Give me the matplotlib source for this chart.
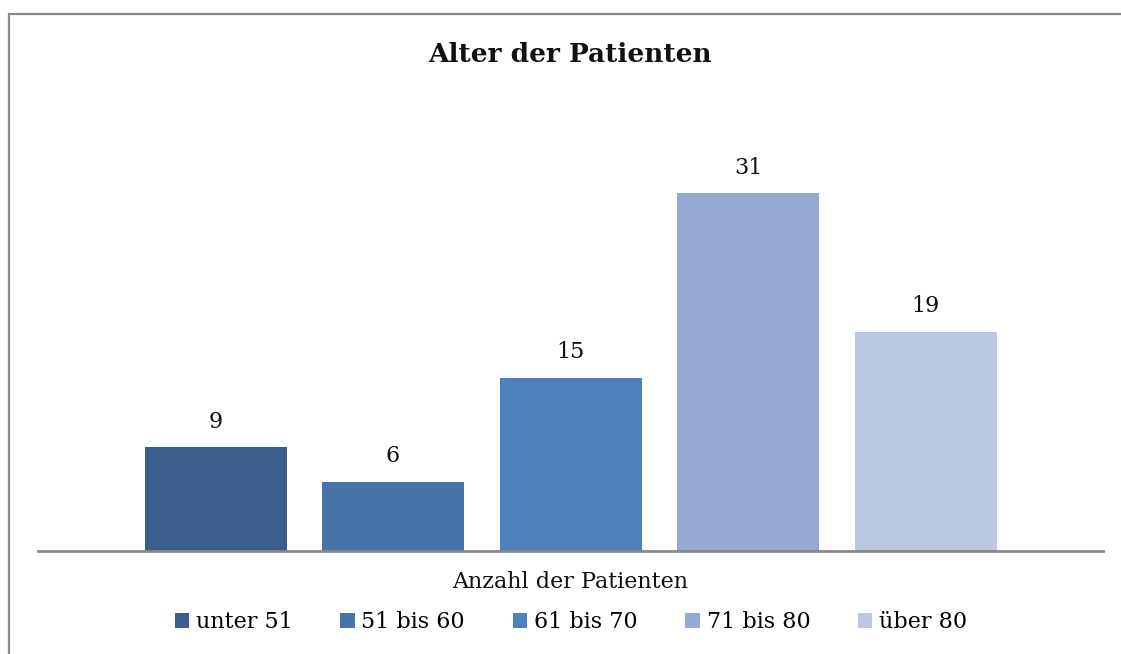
import matplotlib
matplotlib.use("Agg")
import matplotlib.pyplot as plt
from matplotlib.patches import Rectangle

# data
groups = ["unter 51", "51 bis 60", "61 bis 70", "71 bis 80", "über 80"]
counts = [9, 6, 15, 31, 19]
colors = ["#3B5E8C", "#4673A7", "#4F81BD", "#95AAD2", "#BBC8E0"]

W, H = 1121, 654
FONT = "DejaVu Serif"

fig = plt.figure(figsize=(W / 100, H / 100), dpi=100)
fig.patch.set_facecolor("white")

# chart frame (cut at the right/bottom edges like the reference)
fig.add_artist(Rectangle((8.5 / W, -0.05), 1.1, (H - 13.5) / H + 0.05,
                         transform=fig.transFigure, fill=False,
                         edgecolor="#888888", linewidth=1.6, clip_on=False))

ax = fig.add_axes([38 / W, 1 - 551 / H, (1103 - 38) / W, (551 - 100) / H])
x = list(range(len(groups)))
bars = ax.bar(x, counts, width=0.8, color=colors, linewidth=0)
for xi, v in zip(x, counts):
    ax.text(xi, v + 1.25, str(v), ha="center", va="bottom",
            fontsize=16, family=FONT, color="#111111")

ax.set_xlim(-1, 5)
ax.set_ylim(0, 451 / 11.55)
for s in ["top", "right", "left"]:
    ax.spines[s].set_visible(False)
ax.spines["bottom"].set_color("#888888")
ax.spines["bottom"].set_linewidth(2)
ax.set_xticks([])
ax.set_yticks([])

fig.text(570 / W, 1 - 55 / H, "Alter der Patienten", ha="center", va="center",
         fontsize=19, fontweight="bold", family=FONT, color="#111111")
fig.text(570 / W, 1 - 582 / H, "Anzahl der Patienten", ha="center", va="center",
         fontsize=16, family=FONT, color="#111111")

fig.legend(bars, groups, loc="center", bbox_to_anchor=(571 / W, 1 - 622 / H),
           ncol=5, frameon=False, prop={"family": FONT, "size": 16},
           handlelength=0.65, handleheight=0.65, handletextpad=0.3,
           columnspacing=2.15)

fig.savefig("out.png", dpi=100)
